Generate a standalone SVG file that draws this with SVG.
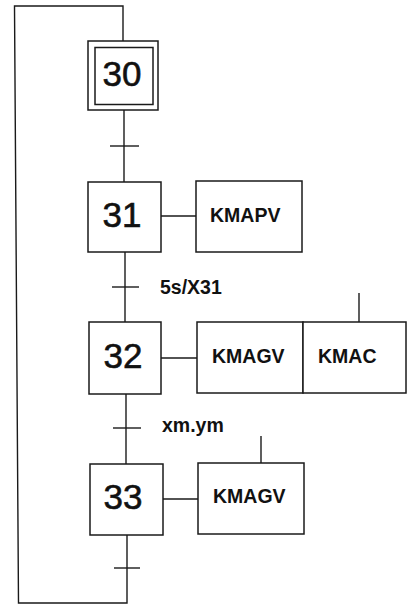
<svg xmlns="http://www.w3.org/2000/svg" width="408" height="605" viewBox="0 0 408 605">
<style>
.ln{stroke:#1a1a1a;stroke-width:1.4;fill:none}
.bx{stroke:#1a1a1a;stroke-width:1.5;fill:#fff}
.num{font-family:"Liberation Sans",Arial,sans-serif;font-size:35px;fill:#111;text-anchor:middle;stroke:#111;stroke-width:0.6}
.lbl{font-family:"Liberation Sans",Arial,sans-serif;font-size:19.5px;font-weight:bold;fill:#111}
</style>
<rect width="408" height="605" fill="#fff"/>
<g id="connectors" class="ln">
<polyline points="123,41 123,6 14.5,6 18.5,603 127,603 127,535"/>
<line x1="124" y1="110" x2="124" y2="182"/>
<line x1="110" y1="146" x2="139" y2="146"/>
<line x1="161" y1="216" x2="196" y2="216"/>
<line x1="125" y1="252" x2="125" y2="322"/>
<line x1="112" y1="287" x2="139" y2="287"/>
<line x1="161" y1="358" x2="197" y2="358"/>
<line x1="359" y1="293" x2="359" y2="322"/>
<line x1="126" y1="394" x2="126" y2="464"/>
<line x1="113" y1="428" x2="141" y2="428"/>
<line x1="163" y1="499" x2="198" y2="499"/>
<line x1="261" y1="436" x2="261" y2="463"/>
<line x1="114" y1="568" x2="140" y2="568"/>
</g>
<g id="step30">
<rect class="bx" x="88" y="41" width="70" height="69"/>
<rect class="bx" x="95" y="47.5" width="58" height="57"/>
<text class="num" x="122" y="86">30</text>
</g>
<g id="step31">
<rect class="bx" x="88" y="182" width="73" height="70"/>
<text class="num" x="122" y="227">31</text>
</g>
<g id="action31">
<rect class="bx" x="196" y="181" width="106" height="71"/>
<text class="lbl" x="210" y="222">KMAPV</text>
</g>
<g id="trans31">
<text class="lbl" x="160" y="294">5s/X31</text>
</g>
<g id="step32">
<rect class="bx" x="89" y="322" width="72" height="72"/>
<text class="num" x="123" y="368">32</text>
</g>
<g id="action32">
<rect class="bx" x="197" y="322" width="106" height="71"/>
<rect class="bx" x="303" y="322" width="103" height="71"/>
<text class="lbl" x="212" y="363">KMAGV</text>
<text class="lbl" x="318" y="363">KMAC</text>
</g>
<g id="trans32">
<text class="lbl" x="162" y="432">xm.ym</text>
</g>
<g id="step33">
<rect class="bx" x="90" y="464" width="73" height="71"/>
<text class="num" x="123" y="509">33</text>
</g>
<g id="action33">
<rect class="bx" x="198" y="463" width="106" height="71"/>
<text class="lbl" x="213" y="503">KMAGV</text>
</g>
</svg>
